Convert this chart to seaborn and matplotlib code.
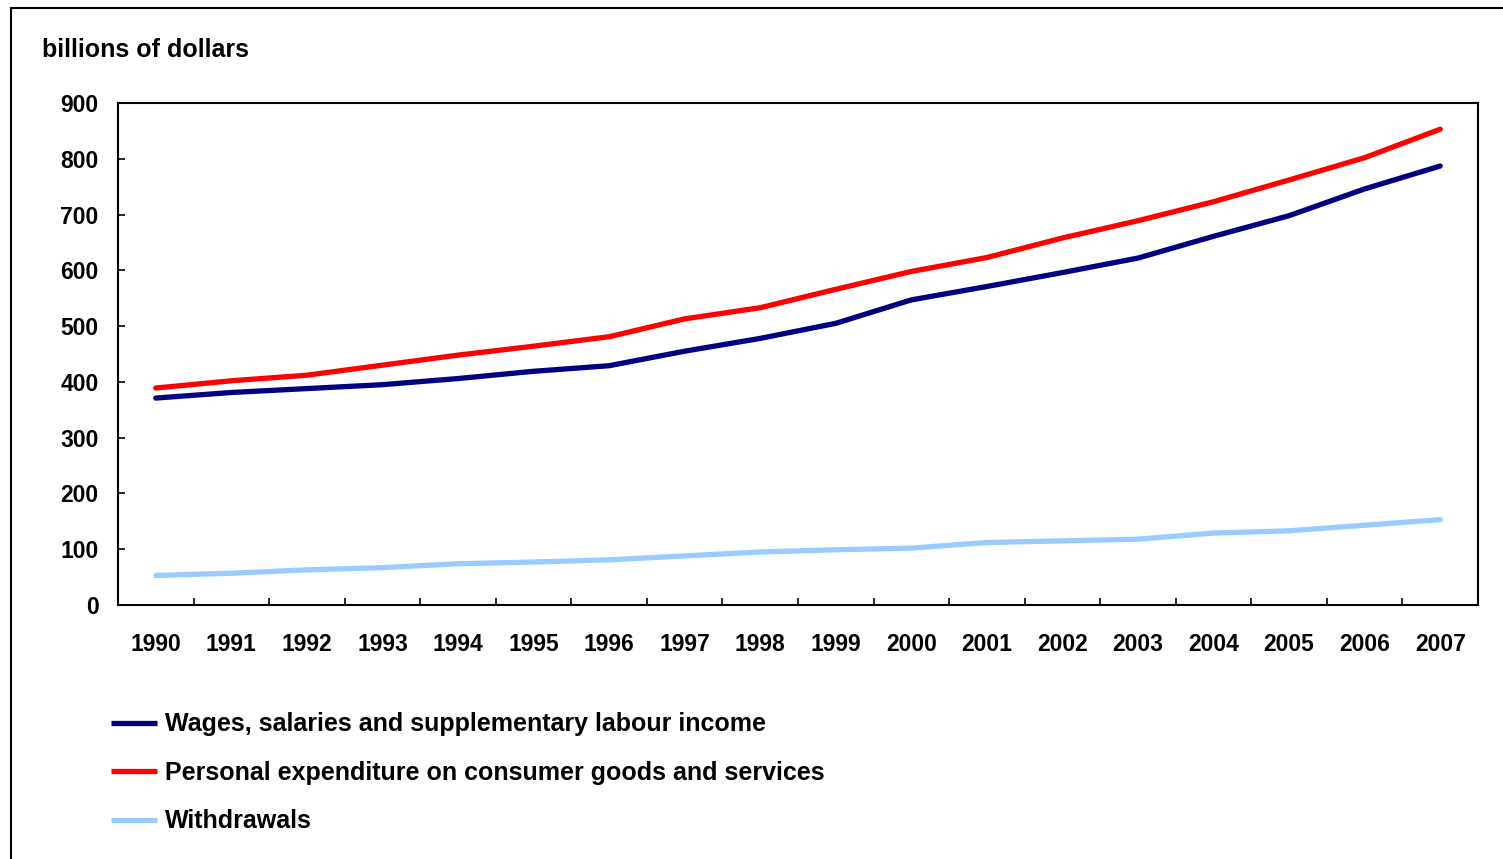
import pandas as pd
import numpy as np
import seaborn as sns
import matplotlib.pyplot as plt
from matplotlib.lines import Line2D

years = list(range(1990, 2008))
wages = [371, 381, 388, 395, 406, 419, 429, 455, 478, 505, 547, 571, 596, 622, 661, 698, 746, 787]
expenditure = [389, 402, 412, 430, 448, 464, 481, 513, 533, 566, 598, 623, 658, 689, 723, 762, 802, 853]
withdrawals = [53, 57, 63, 67, 74, 77, 81, 88, 95, 99, 102, 112, 115, 118, 129, 133, 143, 153]

labels = ['Wages, salaries and supplementary labour income',
          'Personal expenditure on consumer goods and services',
          'Withdrawals']
colors = ['#000080', '#FF0000', '#99CCFF']

df = pd.DataFrame({'year': years, labels[0]: wages, labels[1]: expenditure, labels[2]: withdrawals})
long = pd.melt(df, ['year'], var_name='series', value_name='value')

sns.set_style('white')
plt.rcParams['font.family'] = ['Liberation Sans', 'DejaVu Sans']
plt.rcParams['font.weight'] = 'bold'
plt.rcParams['text.color'] = 'black'
plt.rcParams['xtick.color'] = 'black'
plt.rcParams['ytick.color'] = 'black'

fig = plt.figure(figsize=(15.03, 8.59), dpi=100)
ax = fig.add_axes([118 / 1503, 1 - 605 / 859, 1360 / 1503, 502 / 859])

sns.lineplot(data=long, x='year', y='value', hue='series', hue_order=labels,
             palette=dict(zip(labels, colors)), linewidth=3.8, ax=ax, legend=False)

ax.set_xlim(1989.5, 2007.5)
ax.set_ylim(0, 900)
ax.set_yticks(range(0, 901, 100))
ax.set_xticks(years)
ax.set_xticks(np.arange(1990.5, 2007, 1), minor=True)
ax.set_xlabel('')
ax.set_ylabel('')
ax.tick_params(axis='x', which='major', length=0, pad=20, labelsize=16.5)
ax.tick_params(axis='x', which='minor', length=5, width=1.2, direction='in', color='black', bottom=True)
ax.tick_params(axis='y', length=5, width=1.2, direction='in', color='black', left=True, pad=14, labelsize=16.5)
for lab in ax.get_xticklabels() + ax.get_yticklabels():
    lab.set_fontweight('bold')
for s in ax.spines.values():
    s.set_color('black')
    s.set_linewidth(1.5)

fig.text(42 / 1503, 1 - 50 / 859, 'billions of dollars', fontsize=18, fontweight='bold', va='center')

handles = [Line2D([], [], color=c, lw=3.8, solid_capstyle='butt') for c in colors]
fig.legend(handles, labels, loc='upper left', bbox_to_anchor=(88 / 1503, 1 - 690 / 859),
           frameon=False, handlelength=1.85, handletextpad=0.32, labelspacing=0.98,
           prop={'weight': 'bold', 'size': 18})

# outer frame
fig.add_artist(Line2D([11 / 1503, 11 / 1503], [0, 1 - 8 / 859], color='black', lw=1.5))
fig.add_artist(Line2D([11 / 1503, 1], [1 - 8 / 859, 1 - 8 / 859], color='black', lw=1.5))

fig.savefig('out.png', dpi=100)
